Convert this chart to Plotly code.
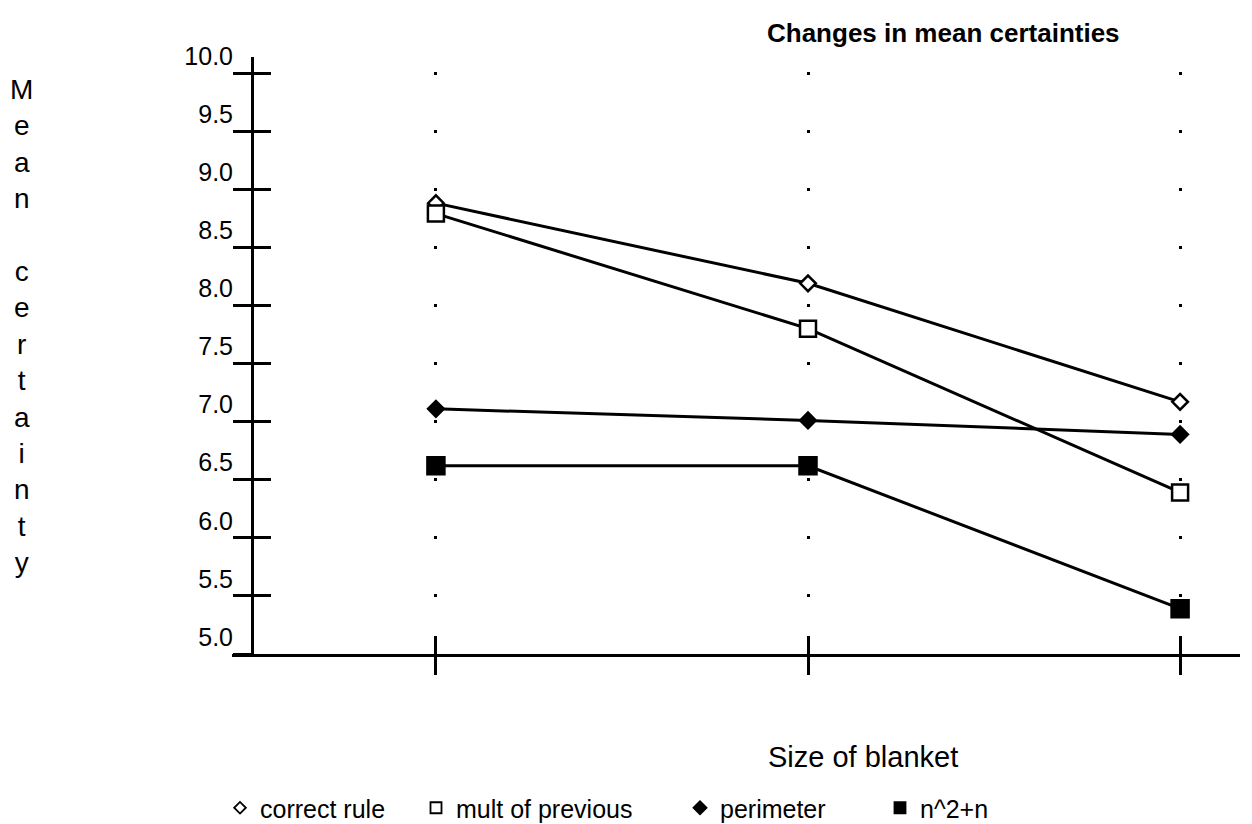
import plotly.graph_objects as go

# ---- data ----
categories = ["small", "medium", "large"]
correct_rule = [8.88, 8.19, 7.17]
mult_of_previous = [8.79, 7.80, 6.39]
perimeter = [7.11, 7.01, 6.89]
n2_plus_n = [6.62, 6.62, 5.39]
series_names = ["correct rule", "mult of previous", "perimeter", "n^2+n"]
y_tick_values = [5.0, 5.5, 6.0, 6.5, 7.0, 7.5, 8.0, 8.5, 9.0, 9.5, 10.0]
y_tick_labels = ["5.0", "5.5", "6.0", "6.5", "7.0", "7.5", "8.0", "8.5", "9.0", "9.5", "10.0"]

FONT = "Liberation Sans, Arial, Helvetica, sans-serif"
BLACK = "#000000"

W, H = 1252, 824
S = 8  # page body margin offset: figure pixel = screen pixel - S
ML, MR, MT, MB = 232 - S, W - (1240 - S), 57 - S, H - (654 - S)
PW, PH = W - ML - MR, H - MT - MB
X_RANGE = [-0.548, 2.161]
Y_RANGE = [5.0, 10.1377]
Y_AXIS_POS = 20 / PW


def px(xs):
    return (xs - S - ML) / PW


def py(ys):
    return (H - MB - (ys - S)) / PH


symbols = ["diamond", "square", "diamond", "square"]
fills = ["white", "white", BLACK, BLACK]
sizes = [12, 16, 12, 17]
values = [correct_rule, mult_of_previous, perimeter, n2_plus_n]

fig = go.Figure()
for name, vals, sym, fc, sz in zip(series_names, values, symbols, fills, sizes):
    fig.add_trace(go.Scatter(
        x=categories, y=vals, mode="lines+markers", name=name,
        showlegend=False,
        line=dict(color=BLACK, width=3),
        marker=dict(symbol=sym, size=sz, color=fc, line=dict(color=BLACK, width=2.5)),
        cliponaxis=False,
    ))

# legend entries (marker only), each in its own legend box
legend_ids = ["legend", "legend2", "legend3", "legend4"]
legend_px = [212, 408, 672, 872]
legend_sizes = [9, 11, 10, 11]
for name, sym, fc, lid, ls in zip(series_names, symbols, fills, legend_ids, legend_sizes):
    fig.add_trace(go.Scatter(
        x=[None], y=[None], mode="markers", name=name, legend=lid,
        xaxis="x2", yaxis="y2",
        marker=dict(symbol=sym, size=ls, color=fc, line=dict(color=BLACK, width=1.8)),
    ))

legend_common = dict(orientation="h", xanchor="left", yanchor="middle",
                     xref="container", yref="container", y=1 - (808 - S) / H,
                     font=dict(family=FONT, size=25, color=BLACK),
                     bgcolor="rgba(0,0,0,0)", borderwidth=0)
layout_legends = {}
for lid, lx in zip(legend_ids, legend_px):
    layout_legends[lid] = dict(legend_common, x=lx / W)

fig.update_layout(
    width=W, height=H,
    margin=dict(l=ML, r=MR, t=MT, b=MB, autoexpand=False),
    paper_bgcolor="white", plot_bgcolor="white",
    font=dict(family=FONT, size=25, color=BLACK),
    showlegend=True,
    xaxis=dict(
        type="category", categoryarray=categories, range=X_RANGE,
        showticklabels=False, ticks="outside", ticklen=18, tickwidth=3, tickcolor=BLACK,
        showline=True, linecolor=BLACK, linewidth=3,
        showgrid=True, gridcolor=BLACK, gridwidth=3,
        griddash="0px,14.5px,3px,40.6px",
        zeroline=False, anchor="y",
    ),
    yaxis=dict(
        range=Y_RANGE, tickmode="array", tickvals=y_tick_values,
        showticklabels=False,
        ticks="outside", ticklen=18, tickwidth=3, tickcolor=BLACK,
        showline=True, linecolor=BLACK, linewidth=3,
        showgrid=False, zeroline=False,
        anchor="free", position=Y_AXIS_POS,
    ),
    xaxis2=dict(
        overlaying="x", anchor="y2", range=X_RANGE, type="linear",
        tickmode="array", tickvals=[0, 1, 2], showticklabels=False,
        ticks="inside", ticklen=18, tickwidth=3, tickcolor=BLACK,
        showline=False, showgrid=False, zeroline=False,
    ),
    yaxis2=dict(
        overlaying="y", anchor="free", position=Y_AXIS_POS, range=Y_RANGE,
        tickmode="array", tickvals=y_tick_values, ticktext=y_tick_labels,
        showticklabels=True, ticklabelstandoff=19, ticklabelshift=-17,
        tickfont=dict(family=FONT, size=25, color=BLACK),
        ticks="inside", ticklen=18, tickwidth=3, tickcolor=BLACK,
        showline=False, showgrid=False, zeroline=False,
    ),
    **layout_legends,
)

fig.add_annotation(text="<b>Changes in mean certainties</b>", xref="paper", yref="paper",
                   x=px(943), y=py(33), showarrow=False,
                   xanchor="center", yanchor="middle",
                   font=dict(family=FONT, size=26, color=BLACK))
fig.add_annotation(text="Size of blanket", xref="paper", yref="paper",
                   x=px(863), y=py(757), showarrow=False,
                   xanchor="center", yanchor="middle",
                   font=dict(family=FONT, size=29, color=BLACK))
fig.add_annotation(text="M<br>e<br>a<br>n<br> <br>c<br>e<br>r<br>t<br>a<br>i<br>n<br>t<br>y",
                   xref="paper", yref="paper", x=px(21), y=py(326),
                   showarrow=False, xanchor="center", yanchor="middle",
                   font=dict(family=FONT, size=28, color=BLACK))

fig.write_html("out.html")
